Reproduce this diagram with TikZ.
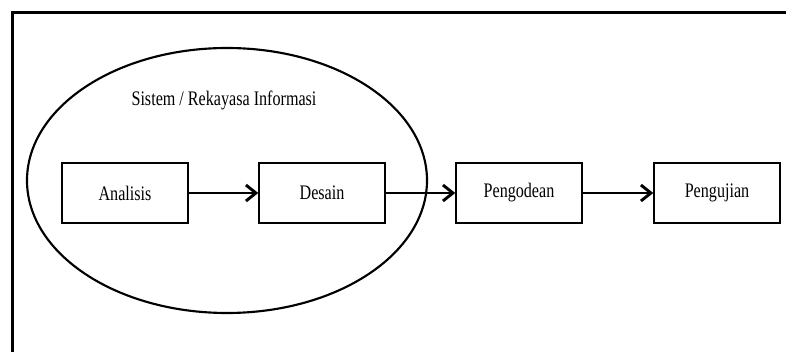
\documentclass[tikz,border=0pt]{standalone}
\usepackage{fontspec}
\setmainfont{Liberation Serif}[FakeStretch=0.78]
\usetikzlibrary{shapes.geometric,arrows.meta}
\begin{document}
\begin{tikzpicture}[x=0.75pt,y=-0.75pt,
  stagebox/.style={draw=black, line width=1.1pt, minimum width=94.5pt, minimum height=45pt, inner sep=0pt, font=\fontsize{15.5}{17}\selectfont},
  flow/.style={line width=2.2pt, -{Straight Barb[length=7.5pt,width=12pt,line width=2.2pt]}},
  lbl/.style={font=\fontsize{15.5}{17}\selectfont}]
\useasboundingbox (0,0) rectangle (786,352);
\fill[white] (0,0) rectangle (786,352);
\coordinate (fbl) at (12.5,353);
\coordinate (ftl) at (12.5,12.5);
\coordinate (ftr) at (787,12.5);
\draw[line width=1.6pt] (fbl) -- (ftl) -- (ftr);
\node[ellipse, draw=black, line width=1.6pt, minimum width=300pt, minimum height=198.75pt, inner sep=0pt] (sys) at (227,180.5) {};
\node[lbl] (title) at (224,100) {Sistem / Rekayasa Informasi};
\node[stagebox] (a) at (125,193) {Analisis};
\node[stagebox] (d) at (322,193) {Desain};
\node[stagebox] (p) at (519,193) {Pengodean};
\node[stagebox] (u) at (717,193) {Pengujian};
\draw[flow] (a.east) -- (d.west);
\draw[flow] (d.east) -- (p.west);
\draw[flow] (p.east) -- (u.west);
\end{tikzpicture}
\end{document}
